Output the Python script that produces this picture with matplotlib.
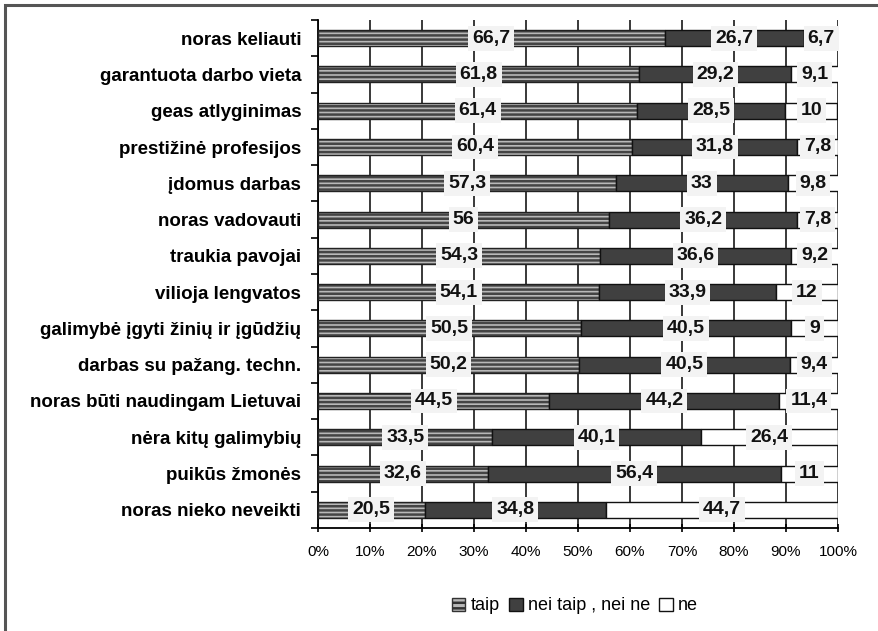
import matplotlib
matplotlib.use("Agg")
import matplotlib.pyplot as plt
from matplotlib.patches import Rectangle, Patch
import numpy as np

categories = [
    "noras keliauti",
    "garantuota darbo vieta",
    "geas atlyginimas",
    "prestižinė profesijos",
    "įdomus darbas",
    "noras vadovauti",
    "traukia pavojai",
    "vilioja lengvatos",
    "galimybė įgyti žinių ir įgūdžių",
    "darbas su pažang. techn.",
    "noras būti naudingam Lietuvai",
    "nėra kitų galimybių",
    "puikūs žmonės",
    "noras nieko neveikti",
]
taip = [66.7, 61.8, 61.4, 60.4, 57.3, 56, 54.3, 54.1, 50.5, 50.2, 44.5, 33.5, 32.6, 20.5]
nei = [26.7, 29.2, 28.5, 31.8, 33, 36.2, 36.6, 33.9, 40.5, 40.5, 44.2, 40.1, 56.4, 34.8]
ne = [6.7, 9.1, 10, 7.8, 9.8, 7.8, 9.2, 12, 9, 9.4, 11.4, 26.4, 11, 44.7]
series_names = ["taip", "nei taip , nei ne", "ne"]
xticks = np.arange(0, 101, 10)

plt.rcParams["font.family"] = ["Liberation Sans", "DejaVu Sans"]
plt.rcParams["hatch.linewidth"] = 1.8

fig = plt.figure(figsize=(8.79, 6.31), dpi=100)
ax = fig.add_axes([318 / 879, 1 - 528 / 631, 520 / 879, 508 / 631])

y = np.arange(len(categories))
h = 0.44
taip_a = np.array(taip)
nei_a = np.array(nei)
ne_a = np.array(ne)

# striped "taip" segments: hatched fill, then a black outline
ax.barh(y, taip_a, height=h, color="#b8b8b8", edgecolor="#444444",
        hatch="----", linewidth=0, zorder=3)
ax.barh(y, taip_a, height=h, facecolor="none", edgecolor="#222222",
        linewidth=1.0, zorder=3)
ax.barh(y, nei_a, left=taip_a, height=h, color="#404040",
        edgecolor="#111111", linewidth=1.0, zorder=3)
ax.barh(y, ne_a, left=taip_a + nei_a, height=h, color="white",
        edgecolor="#111111", linewidth=1.0, zorder=3)

# value labels centred on each segment
box = dict(boxstyle="square,pad=0.2", facecolor="#f3f3f3", edgecolor="none")
for i in range(len(categories)):
    starts = [0, taip_a[i], taip_a[i] + nei_a[i]]
    vals = [taip_a[i], nei_a[i], ne_a[i]]
    for s, v in zip(starts, vals):
        txt = f"{v:g}".replace(".", ",")
        ax.text(s + v / 2, i, txt, ha="center", va="center", fontsize=14,
                fontweight="bold", color="#111111", bbox=box, zorder=5)

ax.set_xlim(0, 100)
ax.set_ylim(len(categories) - 0.5, -0.5)
ax.set_xticks(xticks)
ax.set_xticklabels([f"{t}%" for t in xticks], fontsize=11)
ax.set_yticks(y)
ax.set_yticklabels(categories, fontsize=13.5, fontweight="bold")
ax.tick_params(axis="y", length=0, pad=12)
ax.set_yticks(np.arange(-0.5, len(categories), 1), minor=True)
ax.tick_params(axis="y", which="minor", length=5, width=1.2, direction="out")
ax.tick_params(axis="x", length=6, width=1.2, direction="inout", pad=9)

ax.grid(axis="x", color="#2a2a2a", linewidth=1.3, zorder=0)
ax.set_axisbelow(True)
for side in ["top", "right"]:
    ax.spines[side].set_visible(False)
ax.spines["left"].set_linewidth(1.3)
ax.spines["bottom"].set_linewidth(1.3)

handles = [
    Patch(facecolor="#b8b8b8", edgecolor="#333333", hatch="---", label=series_names[0]),
    Patch(facecolor="#404040", edgecolor="#111111", label=series_names[1]),
    Patch(facecolor="white", edgecolor="#111111", label=series_names[2]),
]
fig.legend(handles=handles, loc="center", bbox_to_anchor=(575 / 879, 1 - 606 / 631),
           ncol=3, frameon=False, fontsize=13, handlelength=0.75, handleheight=0.75,
           handletextpad=0.3, columnspacing=0.5)

# outer frame of the chart area
fig.add_artist(Rectangle((5 / 879, -0.05), 1.1, 1 - 5 / 631 + 0.05,
                         transform=fig.transFigure, fill=False,
                         edgecolor="#555555", linewidth=2.2))

fig.savefig("out.png", dpi=100)
